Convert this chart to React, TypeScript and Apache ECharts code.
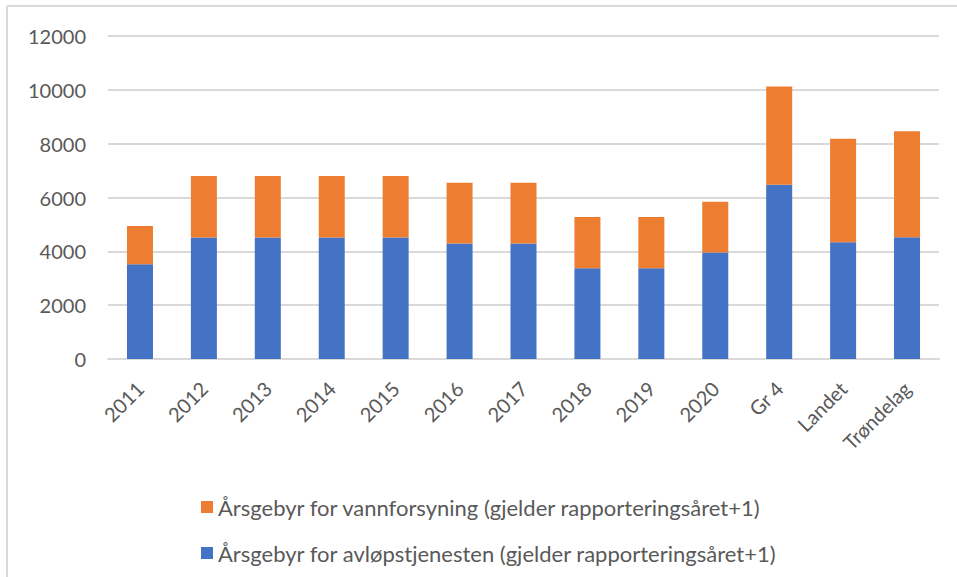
import React, { useEffect, useRef } from "react";
import * as echarts from "echarts";

const categories = ["2011", "2012", "2013", "2014", "2015", "2016", "2017", "2018", "2019", "2020", "Gr 4", "Landet", "Trøndelag"];
const avlopValues = [3520, 4510, 4510, 4510, 4510, 4290, 4290, 3375, 3375, 3955, 6475, 4335, 4520];
const vannValues = [1420, 2290, 2290, 2290, 2290, 2260, 2260, 1900, 1900, 1890, 3645, 3845, 3940];
const vannName = "Årsgebyr for vannforsyning (gjelder rapporteringsåret+1)";
const avlopName = "Årsgebyr for avløpstjenesten (gjelder rapporteringsåret+1)";

const FONT = "Lato, 'Liberation Sans', sans-serif";

export default function App() {
  const ref = useRef<HTMLDivElement>(null);
  useEffect(() => {
    if (!ref.current) return;
    const chart = echarts.init(ref.current, null, { renderer: "svg" });
    chart.setOption({
      animation: false,
      backgroundColor: "#ffffff",
      textStyle: { fontFamily: FONT },
      graphic: [
        { type: "line", shape: { x1: 7, y1: 6, x2: 957, y2: 6 }, style: { stroke: "#d9d9d9", lineWidth: 2 } },
        { type: "line", shape: { x1: 7, y1: 6, x2: 7, y2: 577 }, style: { stroke: "#d9d9d9", lineWidth: 2 } },
      ],
      grid: { left: 108, right: 18, top: 36, bottom: 218, containLabel: false },
      legend: {
        orient: "vertical",
        left: 196,
        top: 489,
        itemWidth: 12,
        itemHeight: 12,
        itemGap: 20,
        icon: "rect",
        data: [vannName, avlopName],
        textStyle: { fontFamily: FONT, fontSize: 22, color: "#595959", lineHeight: 26 },
      },
      xAxis: {
        type: "category",
        data: categories,
        axisLine: { lineStyle: { color: "#d9d9d9", width: 2 } },
        axisTick: { show: false },
        axisLabel: { rotate: 45, margin: 26, fontSize: 20, color: "#595959", fontFamily: FONT, interval: 0 },
      },
      yAxis: {
        type: "value",
        min: 0,
        max: 12000,
        interval: 2000,
        axisLine: { show: false },
        axisTick: { show: false },
        splitLine: { lineStyle: { color: "#d9d9d9", width: 2 } },
        axisLabel: {
          margin: 22,
          fontSize: 20,
          color: "#595959",
          fontFamily: FONT,
          formatter: (v: number) => String(v),
        },
      },
      series: [
        {
          name: avlopName,
          type: "bar",
          stack: "total",
          barWidth: 26,
          data: avlopValues,
          itemStyle: { color: "#4472C4" },
        },
        {
          name: vannName,
          type: "bar",
          stack: "total",
          barWidth: 26,
          data: vannValues,
          itemStyle: { color: "#ED7D31" },
        },
      ],
    });
    return () => chart.dispose();
  }, []);
  return (
    <div
      ref={ref}
      style={{ position: "fixed", left: 0, top: 0, width: 957, height: 577, background: "#fff" }}
    />
  );
}
